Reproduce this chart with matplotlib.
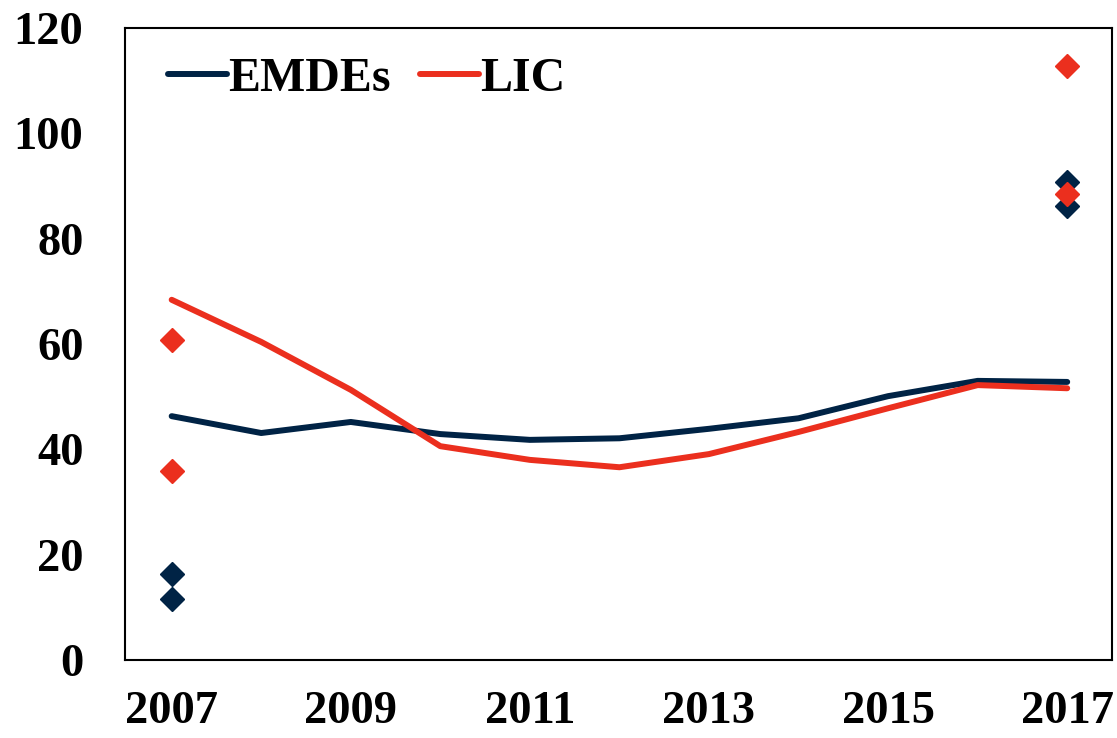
import matplotlib.pyplot as plt

years = list(range(2007, 2018))
emdes = [46.3, 43.1, 45.2, 42.9, 41.8, 42.1, 43.9, 45.9, 50.1, 53.0, 52.8]
lic = [68.4, 60.4, 51.3, 40.6, 38.0, 36.6, 39.1, 43.3, 47.8, 52.2, 51.6]

# diamond markers at start and end years
emdes_pts_x = [2007, 2007, 2017, 2017]
emdes_pts_y = [16.3, 11.6, 90.8, 86.2]
lic_pts_x = [2007, 2007, 2017, 2017]
lic_pts_y = [60.8, 35.9, 112.8, 88.5]

navy = '#002345'
red = '#EB2F1E'

plt.rcParams['font.family'] = ['Liberation Serif', 'DejaVu Serif']
plt.rcParams['font.weight'] = 'bold'

fig = plt.figure(figsize=(11.17, 7.38), dpi=100)
ax = fig.add_axes([0.112, 0.1057, 0.8835, 0.8563])

ax.plot(years, emdes, color=navy, lw=4.3, solid_capstyle='round', label='EMDEs')
ax.plot(years, lic, color=red, lw=4.3, solid_capstyle='round', label='LIC')
ax.plot(emdes_pts_x, emdes_pts_y, 'D', color=navy, ms=12.5, ls='none')
ax.plot(lic_pts_x, lic_pts_y, 'D', color=red, ms=12.5, ls='none')

ax.set_xlim(2006.48, 2017.5)
ax.set_ylim(0, 120)
ax.set_xticks(range(2007, 2018, 2))
ax.set_yticks(range(0, 121, 20))
ax.tick_params(length=0, labelsize=33.5)
ax.tick_params(axis='y', pad=30)
ax.tick_params(axis='x', pad=22)
for s in ax.spines.values():
    s.set_linewidth(1.5)

ax.legend(loc='center left', frameon=False, fontsize=34.5, ncol=2,
          handlelength=1.23, handletextpad=0.03, columnspacing=0.6,
          borderpad=0, borderaxespad=0, bbox_to_anchor=(0.0436, 0.919))

fig.savefig('out.png', dpi=100)
